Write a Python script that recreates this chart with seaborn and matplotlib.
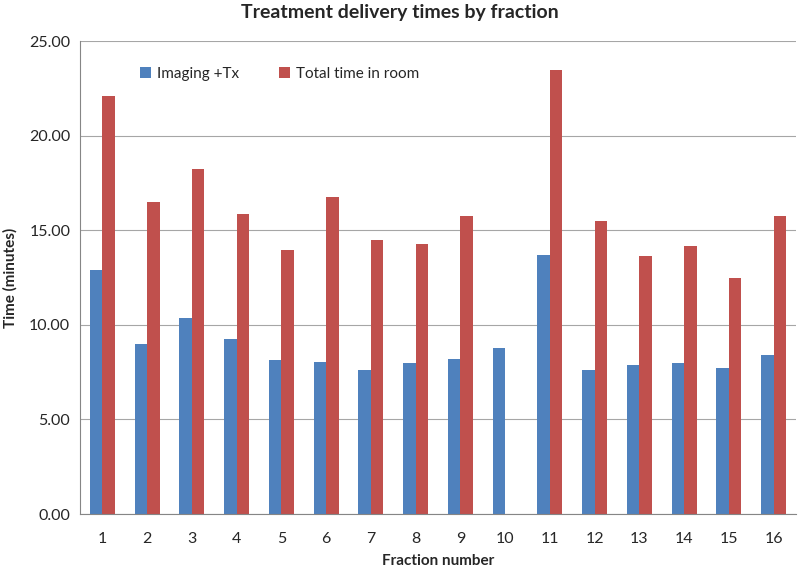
import numpy as np
import pandas as pd
import seaborn as sns
import matplotlib.pyplot as plt

# values (minutes)
fractions = [str(i) for i in range(1, 17)]
imaging_tx = [12.89, 8.98, 10.34, 9.24, 8.13, 8.01, 7.59, 7.96,
              8.17, 8.79, 13.70, 7.59, 7.87, 7.96, 7.71, 8.42]
total_room = [22.08, 16.47, 18.26, 15.85, 13.98, 16.76, 14.47, 14.26,
              15.74, np.nan, 23.49, 15.49, 13.63, 14.19, 12.47, 15.74]
series_names = ['Imaging +Tx', 'Total time in room']

df = pd.DataFrame({
    'Fraction': fractions * 2,
    'Time': imaging_tx + total_room,
    'Series': [series_names[0]] * 16 + [series_names[1]] * 16,
})

sns.set_style('white')
plt.rcParams['font.family'] = ['Lato', 'DejaVu Sans']

fig = plt.figure(figsize=(8, 5.74), dpi=100)
ax = fig.add_axes([0.1, 0.1045, 0.895, 0.824])

sns.barplot(data=df, x='Fraction', y='Time', hue='Series', order=fractions,
            hue_order=series_names, palette=['#4F81BD', '#C0504D'],
            width=0.56, gap=0, saturation=1, linewidth=0, ax=ax)

ax.set_ylim(0, 25)
ax.set_xlim(-0.5, 15.5)
ax.set_yticks(np.arange(0, 25.01, 5))
ax.set_yticklabels(['%.2f' % v for v in np.arange(0, 25.01, 5)], fontsize=11.5)
ax.tick_params(axis='x', which='major', length=0, labelsize=11.5, pad=13)
ax.set_xticks(np.arange(-0.5, 16, 1), minor=True)
ax.tick_params(axis='x', which='minor', length=5, color='#868686', width=0.8)
ax.tick_params(axis='y', length=4, color='#868686', width=0.8, pad=3)

ax.yaxis.grid(True, color='#a6a6a6', linewidth=0.8)
ax.set_axisbelow(True)
for s in ['top', 'right']:
    ax.spines[s].set_visible(False)
for s in ['left', 'bottom']:
    ax.spines[s].set_color('#868686')
    ax.spines[s].set_linewidth(0.8)

ax.set_xlabel('Fraction number', fontsize=11, fontweight='bold', labelpad=6)
ax.set_ylabel('Time (minutes)', fontsize=11, fontweight='bold', labelpad=8)
fig.suptitle('Treatment delivery times by fraction', fontsize=14,
             fontweight='bold', y=0.993)

ax.legend(loc='upper left', bbox_to_anchor=(0.065, 0.975), ncol=2,
          frameon=False, fontsize=11, handlelength=0.7, handleheight=0.7,
          handletextpad=0.4, columnspacing=2.6)

fig.savefig('out.png', dpi=100)
